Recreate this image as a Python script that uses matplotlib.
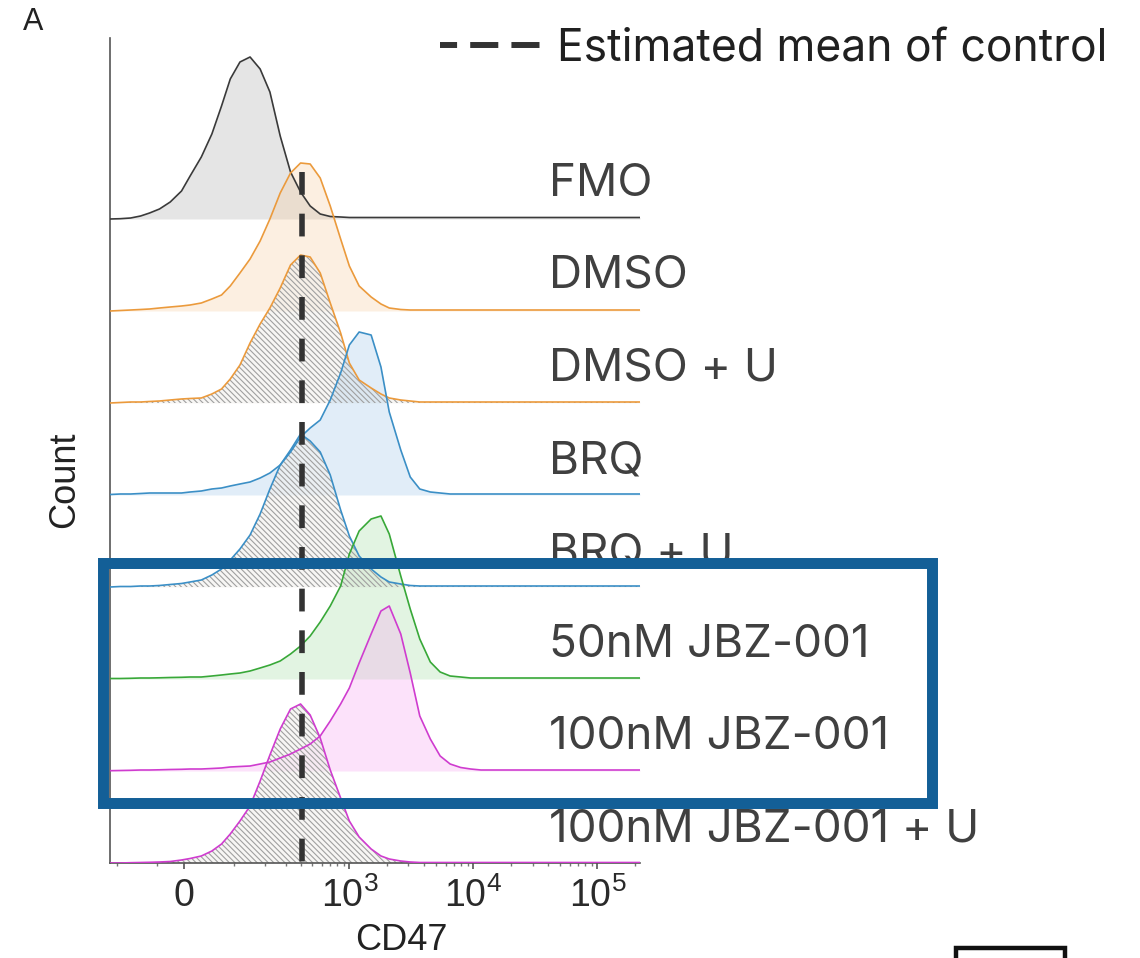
import numpy as np
import matplotlib
matplotlib.use("Agg")
import matplotlib.pyplot as plt
from matplotlib.patches import Rectangle
from matplotlib.lines import Line2D

W, H = 1140, 958

# ---- data ----
# CD47 channel positions (biexponential-like axis)
cd47 = [-175, -140, -110, -85, -65, -45, -25, -5, 10, 30, 50, 70, 90, 115, 145,
        180, 220, 270, 330, 400, 480, 580, 700, 850, 1000, 1200, 1500, 1800,
        2100, 2600, 3100, 3700, 4500, 5400, 6500, 7900, 9500, 11500,
        16500, 35000, 73000, 150000, 220000]

samples = ["FMO", "DMSO", "DMSO + U", "BRQ", "BRQ + U",
           "50nM JBZ-001", "100nM JBZ-001", "100nM JBZ-001 + U"]

# counts (same scale for every histogram)
fmo = [0, 0.3, 1, 3, 6, 10, 17, 28, 43, 62, 85, 113, 140, 157, 162, 150, 127,
       83, 47, 27, 13, 5, 2.5, 2] + [1.5] * 14 + [1.5] * 5
dmso = [0, 0.5, 1, 1.5, 2, 3, 4, 5, 6, 8, 12, 16, 25, 38, 52, 70, 92, 118, 138,
        148, 147, 133, 105, 72, 45, 25, 14, 7, 3, 1.5] + [1] * 8 + [1] * 5
dmso_u = [0, 0.5, 1, 1, 1.5, 2, 3, 4, 4.5, 5, 9, 14, 24, 38, 60, 79, 95, 115,
          138, 148, 146, 130, 100, 70, 40, 23, 15, 9, 5, 3, 2] + [1] * 7 + [1] * 5
brq = [0.5, 1, 1, 1.5, 2, 2, 2, 2, 3, 4, 6, 7, 9, 11, 13, 17, 22, 30, 43, 58,
       67, 75, 95, 122, 150, 163, 160, 128, 83, 45, 18, 6, 3, 2] + [1] * 4 + [1] * 5
brq_u = [0, 0.5, 0.5, 1, 1, 1.5, 2.5, 3.5, 5, 7, 12, 18, 27, 38, 52, 73, 98, 122,
         137, 153, 146, 135, 112, 77, 51, 31, 18, 10, 5, 3, 1.5] + [1] * 7 + [1] * 5
jbz50 = [0.5, 0.5, 0.7, 1, 1, 1.2, 1.5, 1.7, 2, 2, 3, 4, 5, 6, 8, 11, 14, 18, 25,
         33, 43, 57, 73, 93, 125, 148, 160, 163, 145, 103, 70, 40, 17, 7, 3, 2,
         1, 1] + [1] * 5
jbz100 = [0.3, 0.5, 0.7, 1, 1, 1.2, 1.5, 1.7, 2, 2, 2.5, 3, 4, 4.5, 5, 7, 9, 13,
          17, 22, 27, 35, 50, 67, 83, 108, 137, 160, 165, 137, 98, 55, 32, 15, 7,
          3.5, 2, 1] + [1] * 5
jbz100_u = [0, 0, 0.3, 0.5, 0.7, 1, 1.5, 3, 4.5, 7, 12, 19, 29, 42, 57, 82, 108,
            134, 154, 159, 148, 125, 93, 65, 42, 26, 14, 7, 4, 2, 1] + [0.5] * 7 + [0.5] * 5

counts = [fmo, dmso, dmso_u, brq, brq_u, jbz50, jbz100, jbz100_u]
hatched = [False, False, True, False, True, False, False, True]

line_colors = ["#3a3a3a", "#eb9a3c", "#eb9a3c", "#3b8fc6", "#3b8fc6",
               "#38a838", "#cf3ccf", "#cf3ccf"]
fill_colors = ["#ababab", "#f8cd9e", None, "#9ec6e8", None,
               "#a2dba2", "#f8a2f1", None]

control_mean = 415

plt.rcParams["font.family"] = ["Liberation Sans", "DejaVu Sans"]
plt.rcParams["mathtext.default"] = "regular"
plt.rcParams["hatch.linewidth"] = 0.8


def fx(px):
    return px / W


def fy(py):
    return 1 - py / H


fig = plt.figure(figsize=(W / 100, H / 100), dpi=100)
ax = fig.add_axes([fx(110), fy(863), 530 / W, 825 / H])

c = 94.0
ax.set_xscale("function",
              functions=(lambda v: np.arcsinh(np.asarray(v) / c),
                         lambda u: c * np.sinh(np.asarray(u))))
ax.set_xlim(-175, 220000)
ax.set_ylim(0, 825)

row_step = 92
n = len(samples)
for i, (h, col) in enumerate(zip(counts, line_colors)):
    off = (n - 1 - i) * row_step
    y = off + np.array(h)
    if hatched[i]:
        ax.fill_between(cd47, off, y, color="#f3f1ee", alpha=0.6,
                        linewidth=0, zorder=1)
        ax.fill_between(cd47, off, y, facecolor="none", edgecolor="#a0a0a0",
                        hatch="\\\\\\\\\\\\", linewidth=0, zorder=2)
    else:
        ax.fill_between(cd47, off, y, color=fill_colors[i], alpha=0.3,
                        linewidth=0, zorder=1)
    ax.plot(cd47, y, color=col, lw=1.2, zorder=3)

# dashed line drawn from its top end down, so the pattern starts at the top
ax.axvline(control_mean, ymin=691 / 825, ymax=0, color="#333333", lw=4,
           linestyle=(0, (4.1, 3.4)), zorder=4)

for s in ["top", "right"]:
    ax.spines[s].set_visible(False)
for s in ["left", "bottom"]:
    ax.spines[s].set_color("#555555")
    ax.spines[s].set_linewidth(1.2)

ax.set_yticks([])
ax.set_xticks([0, 1e3, 1e4, 1e5], labels=["0", "$10^3$", "$10^4$", "$10^5$"])
ax.set_xticks([-150, -50, 100, 200, 300, 400, 500, 600, 700, 800, 900,
               2000, 3000, 4000, 5000, 6000, 7000, 8000, 9000,
               20000, 30000, 40000, 50000, 60000, 70000, 80000, 90000, 200000],
              minor=True)
ax.tick_params(axis="x", which="major", length=4.5, width=1.2, color="#555555",
               labelsize=27, labelcolor="#2a2a2a", pad=6)
ax.tick_params(axis="x", which="minor", length=2.5, width=1, color="#777777")

fig.text(fx(401), fy(940), "CD47", fontsize=26, color="#222222",
         ha="center", va="center")
fig.text(fx(65), fy(480), "Count", fontsize=26, color="#222222",
         ha="center", va="center", rotation=90)
fig.text(fx(33), fy(22), "A", fontsize=22, color="#222222",
         ha="center", va="center")

# sample labels
label_font = ["Inter", "DejaVu Sans"]
baselines = [196, 288, 381, 473, 565, 657, 749, 842]
for name, b in zip(samples, baselines):
    fig.text(fx(549), fy(b), name, fontsize=33, color="#404040",
             family=label_font, ha="left", va="baseline")

# legend key for the dashed line
fig.add_artist(Line2D([fx(440), fx(540)], [fy(45), fy(45)],
                      transform=fig.transFigure, color="#333333", lw=4.3,
                      linestyle=(1.84, (4.7, 2.2))))
fig.text(fx(557), fy(62), "Estimated mean of control", fontsize=32,
         color="#202020", family=label_font, ha="left", va="baseline")

# highlight box
fig.add_artist(Rectangle((fx(102.5), fy(802.5)), 829 / W, 240 / H,
                         transform=fig.transFigure, fill=False,
                         edgecolor="#135f97", lw=7.9, zorder=10))
# partial box at bottom right
fig.add_artist(Rectangle((fx(956), fy(1000)), 109 / W, 52 / H,
                         transform=fig.transFigure, fill=False,
                         edgecolor="#111111", lw=3.2, zorder=10))

fig.savefig("out.png", dpi=100)
